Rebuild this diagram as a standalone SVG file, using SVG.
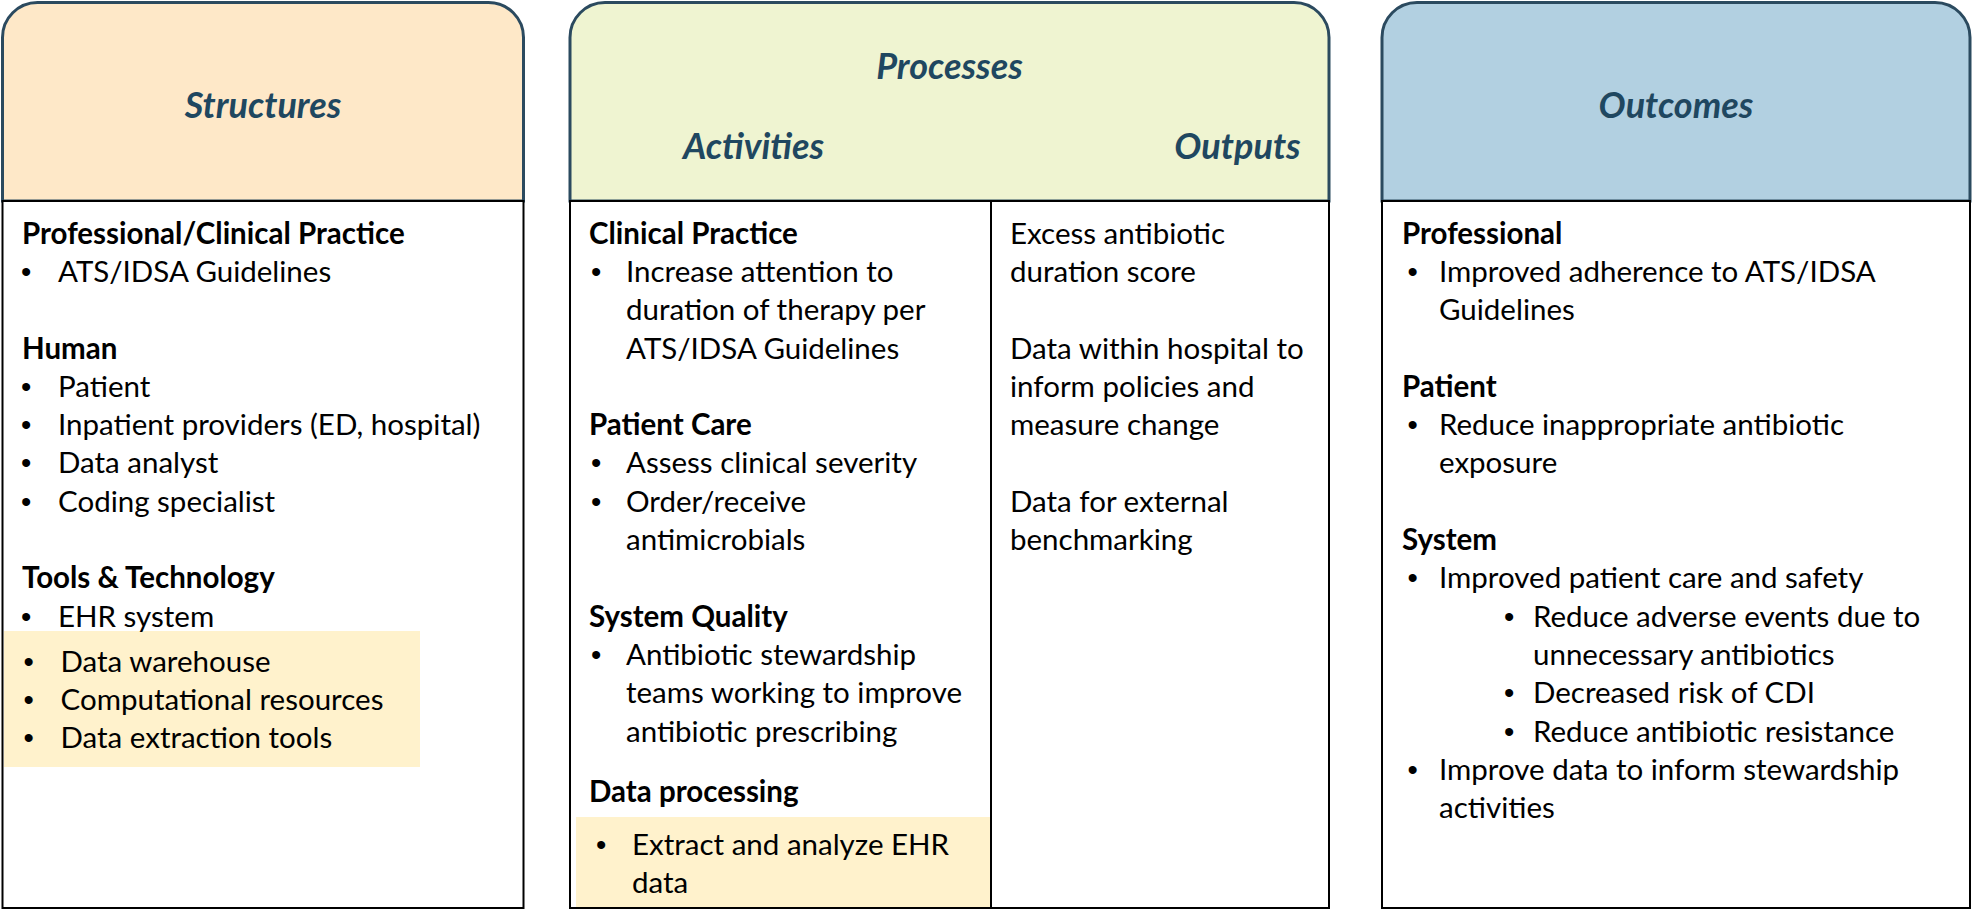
<svg xmlns="http://www.w3.org/2000/svg" width="1972" height="910" viewBox="0 0 1972 910">
  <style>
    .hdr { stroke: #2b4a5f; stroke-width: 3; }
    .body { fill: #ffffff; stroke: #000000; stroke-width: 2; }
    .hl { fill: #fff2cc; stroke: none; }
    .title { font-family: Lato, "Liberation Sans", sans-serif; font-weight: 700; font-style: italic; font-size: 36px; fill: #1f4760; text-anchor: middle; }
    .t { font-family: Lato, "Liberation Sans", sans-serif; font-size: 29.5px; fill: #000000; }
    .b { font-weight: 700; }
    .bu { font-family: "Liberation Sans", Arial, sans-serif; font-size: 29.5px; fill: #000000; }
  </style>
  <rect x="0" y="0" width="1972" height="910" fill="#ffffff"/>

  <!-- Structures column -->
  <g id="structures">
    <path class="hdr" fill="#fee8c8" d="M2.5,201 V37.5 A35,35 0 0 1 37.5,2.5 H488.5 A35,35 0 0 1 523.5,37.5 V201 Z"/>
    <rect class="body" x="2.5" y="201" width="521" height="707"/>
    <rect class="hl" x="4" y="631" width="416" height="136"/>
    <text class="title" x="263" y="118">Structures</text>
    <text class="t b" x="22" y="243.5">Professional/Clinical Practice</text>
    <text class="bu" x="21" y="281.5">•</text><text class="t" x="58" y="281.5">ATS/IDSA Guidelines</text>
    <text class="t b" x="22" y="358.5">Human</text>
    <text class="bu" x="21" y="396.5">•</text><text class="t" x="58" y="396.5">Patient</text>
    <text class="bu" x="21" y="434.5">•</text><text class="t" x="58" y="434.5">Inpatient providers (ED, hospital)</text>
    <text class="bu" x="21" y="473">•</text><text class="t" x="58" y="473">Data analyst</text>
    <text class="bu" x="21" y="511.5">•</text><text class="t" x="58" y="511.5">Coding specialist</text>
    <text class="t b" x="22" y="588">Tools &amp; Technology</text>
    <text class="bu" x="21" y="626.5">•</text><text class="t" x="58" y="626.5">EHR system</text>
    <text class="bu" x="23.5" y="671.5">•</text><text class="t" x="60.5" y="671.5">Data warehouse</text>
    <text class="bu" x="23.5" y="710">•</text><text class="t" x="60.5" y="710">Computational resources</text>
    <text class="bu" x="23.5" y="748">•</text><text class="t" x="60.5" y="748">Data extraction tools</text>
  </g>

  <!-- Processes column: activities and outputs -->
  <g id="processes">
    <path class="hdr" fill="#eff4d1" d="M570,201 V37.5 A35,35 0 0 1 605,2.5 H1294 A35,35 0 0 1 1329,37.5 V201 Z"/>
    <rect class="body" x="570" y="201" width="759" height="707"/>
    <rect class="hl" x="576" y="817" width="414" height="90"/>
    <line x1="991" y1="201" x2="991" y2="908" stroke="#000000" stroke-width="2"/>
    <text class="title" x="949.5" y="79">Processes</text>
    <text class="title" x="753.5" y="159">Activities</text>
    <text class="title" x="1237.5" y="159">Outputs</text>
  </g>
  <g id="activities">
    <text class="t b" x="589" y="243.5">Clinical Practice</text>
    <text class="bu" x="591" y="281.5">•</text><text class="t" x="626" y="281.5">Increase attention to</text>
    <text class="t" x="626" y="320">duration of therapy per</text>
    <text class="t" x="626" y="358.5">ATS/IDSA Guidelines</text>
    <text class="t b" x="589" y="434.5">Patient Care</text>
    <text class="bu" x="591" y="473">•</text><text class="t" x="626" y="473">Assess clinical severity</text>
    <text class="bu" x="591" y="511.5">•</text><text class="t" x="626" y="511.5">Order/receive</text>
    <text class="t" x="626" y="549.5">antimicrobials</text>
    <text class="t b" x="589" y="626.5">System Quality</text>
    <text class="bu" x="591" y="664.5">•</text><text class="t" x="626" y="664.5">Antibiotic stewardship</text>
    <text class="t" x="626" y="703">teams working to improve</text>
    <text class="t" x="626" y="741.5">antibiotic prescribing</text>
    <text class="t b" x="589" y="801.5">Data processing</text>
    <text class="bu" x="596" y="854.5">•</text><text class="t" x="632" y="854.5">Extract and analyze EHR</text>
    <text class="t" x="632" y="892.5">data</text>
  </g>
  <g id="outputs">
    <text class="t" x="1010" y="243.5">Excess antibiotic</text>
    <text class="t" x="1010" y="281.5">duration score</text>
    <text class="t" x="1010" y="358.5">Data within hospital to</text>
    <text class="t" x="1010" y="396.5">inform policies and</text>
    <text class="t" x="1010" y="434.5">measure change</text>
    <text class="t" x="1010" y="511.5">Data for external</text>
    <text class="t" x="1010" y="549.5">benchmarking</text>
  </g>

  <!-- Outcomes column -->
  <g id="outcomes">
    <path class="hdr" fill="#b2d0e1" d="M1382,201 V37.5 A35,35 0 0 1 1417,2.5 H1935 A35,35 0 0 1 1970,37.5 V201 Z"/>
    <rect class="body" x="1382" y="201" width="588" height="707"/>
    <text class="title" x="1676" y="118">Outcomes</text>
    <text class="t b" x="1402" y="243.5">Professional</text>
    <text class="bu" x="1407.5" y="281.5">•</text><text class="t" x="1439" y="281.5">Improved adherence to ATS/IDSA</text>
    <text class="t" x="1439" y="320">Guidelines</text>
    <text class="t b" x="1402" y="396.5">Patient</text>
    <text class="bu" x="1407.5" y="434.5">•</text><text class="t" x="1439" y="434.5">Reduce inappropriate antibiotic</text>
    <text class="t" x="1439" y="473">exposure</text>
    <text class="t b" x="1402" y="549.5">System</text>
    <text class="bu" x="1407.5" y="588">•</text><text class="t" x="1439" y="588">Improved patient care and safety</text>
    <text class="bu" x="1504" y="626.5">•</text><text class="t" x="1533" y="626.5">Reduce adverse events due to</text>
    <text class="t" x="1533" y="664.5">unnecessary antibiotics</text>
    <text class="bu" x="1504" y="703">•</text><text class="t" x="1533" y="703">Decreased risk of CDI</text>
    <text class="bu" x="1504" y="741.5">•</text><text class="t" x="1533" y="741.5">Reduce antibiotic resistance</text>
    <text class="bu" x="1407.5" y="779.5">•</text><text class="t" x="1439" y="779.5">Improve data to inform stewardship</text>
    <text class="t" x="1439" y="818">activities</text>
  </g>

  <!-- no connectors in this figure -->
  <g id="connectors"/>
</svg>
